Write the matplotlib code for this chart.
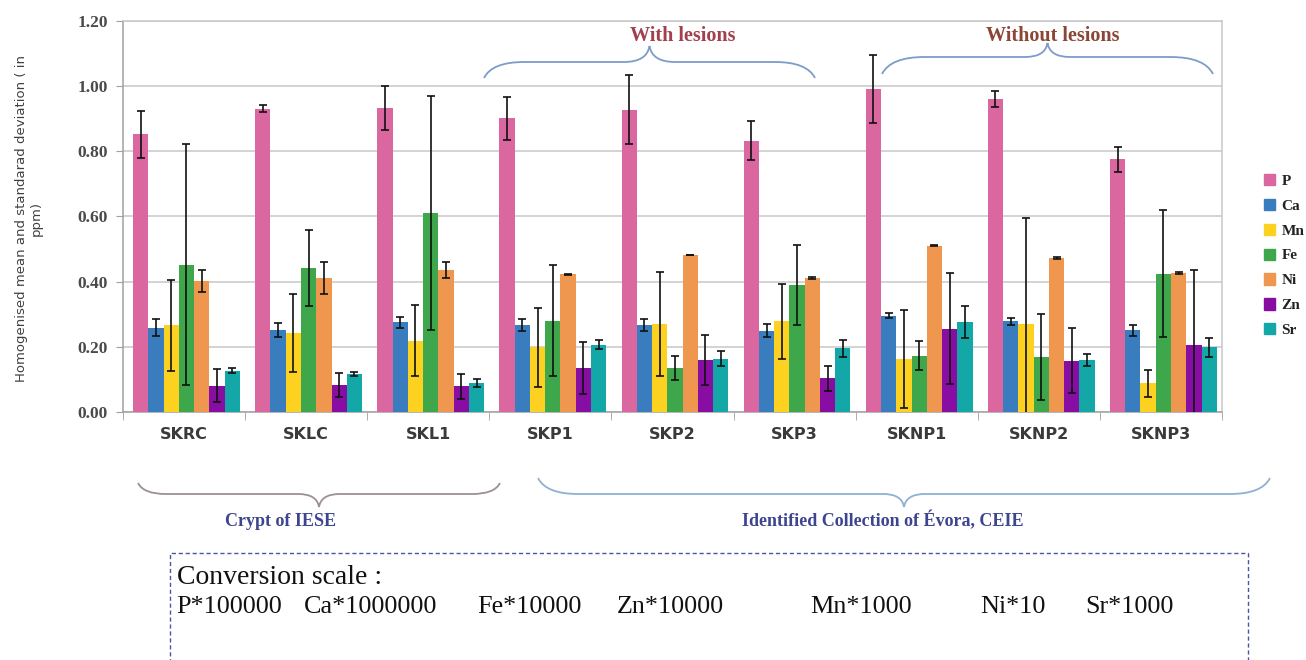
import numpy as np
import matplotlib
matplotlib.use("Agg")
import matplotlib.pyplot as plt
from matplotlib.path import Path
from matplotlib.patches import PathPatch, Rectangle

categories = ["SKRC", "SKLC", "SKL1", "SKP1", "SKP2", "SKP3", "SKNP1", "SKNP2", "SKNP3"]
elements = ["P", "Ca", "Mn", "Fe", "Ni", "Zn", "Sr"]

P = [0.852, 0.931, 0.932, 0.901, 0.927, 0.832, 0.991, 0.960, 0.775]
P_sd = [0.072, 0.011, 0.068, 0.065, 0.106, 0.060, 0.104, 0.024, 0.037]
Ca = [0.259, 0.251, 0.275, 0.267, 0.267, 0.250, 0.296, 0.278, 0.251]
Ca_sd = [0.025, 0.021, 0.018, 0.017, 0.017, 0.021, 0.008, 0.012, 0.017]
Mn = [0.266, 0.242, 0.219, 0.198, 0.271, 0.279, 0.163, 0.271, 0.088]
Mn_sd = [0.140, 0.120, 0.110, 0.120, 0.160, 0.115, 0.151, 0.325, 0.041]
Fe = [0.452, 0.443, 0.611, 0.280, 0.135, 0.389, 0.173, 0.169, 0.425]
Fe_sd = [0.370, 0.117, 0.358, 0.171, 0.036, 0.122, 0.045, 0.133, 0.195]
Ni = [0.401, 0.411, 0.435, 0.423, 0.482, 0.411, 0.510, 0.473, 0.427]
Ni_sd = [0.034, 0.048, 0.024, 0.002, 0.001, 0.004, 0.001, 0.002, 0.003]
Zn = [0.081, 0.084, 0.079, 0.135, 0.159, 0.103, 0.256, 0.157, 0.206]
Zn_sd = [0.050, 0.037, 0.038, 0.080, 0.076, 0.038, 0.171, 0.100, 0.230]
Sr = [0.127, 0.116, 0.089, 0.207, 0.163, 0.196, 0.276, 0.160, 0.198]
Sr_sd = [0.008, 0.007, 0.013, 0.014, 0.023, 0.026, 0.049, 0.019, 0.028]

means = [P, Ca, Mn, Fe, Ni, Zn, Sr]
sds = [P_sd, Ca_sd, Mn_sd, Fe_sd, Ni_sd, Zn_sd, Sr_sd]
colors = ["#DB67A0", "#3A7DBE", "#FDD11F", "#3EA64B", "#EF964F", "#870DA3", "#13A8A7"]

yticks = [0.0, 0.2, 0.4, 0.6, 0.8, 1.0, 1.2]
conversion = ["P*100000", "Ca*1000000", "Fe*10000", "Zn*10000", "Mn*1000", "Ni*10", "Sr*1000"]

W, H = 1306, 660
fig = plt.figure(figsize=(W / 100, H / 100), dpi=100)
ax = fig.add_axes([123 / W, 1 - 412 / H, (1222 - 123) / W, (412 - 21) / H])

n = len(categories)
x = np.arange(n)
bw = 0.125
for i, (m, s, c) in enumerate(zip(means, sds, colors)):
    xi = x - 3 * bw + i * bw + 0.02
    ax.bar(xi, m, width=bw, color=c, zorder=3, label=elements[i])
    ax.errorbar(xi, m, yerr=s, fmt="none", ecolor="#111111", elinewidth=1.2,
                capsize=3, capthick=1.2, zorder=4)

ax.set_xlim(-0.5, n - 0.5)
ax.set_ylim(0, 1.2)
ax.set_yticks(yticks)
ax.set_yticklabels([f"{v:.2f}" for v in yticks], fontfamily="Liberation Serif",
                   fontweight="bold", fontsize=12.5, color="#4A4A4A")
ax.yaxis.grid(True, color="#C8C8C8", linewidth=1.1, zorder=0)
ax.set_axisbelow(True)
ax.tick_params(axis="y", length=5, color="#A0A0A0", pad=6)

ax.set_xticks(x)
ax.set_xticklabels(categories, fontfamily="DejaVu Sans", fontweight="bold",
                   fontsize=11.5, color="#3A3A3A")
ax.tick_params(axis="x", which="major", length=0, pad=11)
ax.set_xticks(np.arange(-0.5, n, 1.0), minor=True)
ax.tick_params(axis="x", which="minor", length=6, color="#A0A0A0")
for sp in ax.spines.values():
    sp.set_color("#C8C8C8")
    sp.set_linewidth(1.1)
ax.spines["left"].set_color("#A0A0A0")
ax.spines["bottom"].set_color("#A0A0A0")

fig.text(29 / W, 1 - 218 / H, "Homogenised mean and standarad deviation ( in\nppm)",
         rotation=90, ha="center", va="center", fontsize=9.5, color="#404040",
         fontfamily="DejaVu Sans", linespacing=1.2)

handles = [Rectangle((0, 0), 1, 1, color=c) for c in colors]
leg = fig.legend(handles, elements, loc="upper left",
                 bbox_to_anchor=(1250 / W, 1 - 160 / H), frameon=False,
                 prop={"family": "Liberation Serif", "weight": "bold", "size": 11},
                 handlelength=0.75, handleheight=0.75, handletextpad=0.4,
                 labelspacing=0.72)
for t in leg.get_texts():
    t.set_color("#222222")


def px(xp, yp):
    return (xp / W, 1 - yp / H)


def brace(x0, x1, yend, yflat, ytip, color, lw=1.3):
    xc = (x0 + x1) / 2
    r = abs(yflat - yend) * 2.5
    r2 = abs(ytip - yflat) * 1.6
    pts = [px(x0, yend), px(x0 + r * 0.2, yflat), px(x0 + r, yflat),
           px(xc - r2, yflat),
           px(xc - r2 * 0.1, yflat), px(xc, ytip),
           px(xc + r2 * 0.1, yflat), px(xc + r2, yflat),
           px(x1 - r, yflat),
           px(x1 - r * 0.2, yflat), px(x1, yend)]
    codes = [Path.MOVETO, Path.CURVE3, Path.CURVE3, Path.LINETO,
             Path.CURVE3, Path.CURVE3, Path.CURVE3, Path.CURVE3,
             Path.LINETO, Path.CURVE3, Path.CURVE3]
    patch = PathPatch(Path(pts, codes), transform=fig.transFigure, fill=False,
                      edgecolor=color, linewidth=lw, zorder=10)
    fig.add_artist(patch)


brace(484, 815, 78, 62, 46, "#7D9CC8")
brace(882, 1213, 74, 57, 43, "#7D9CC8")
brace(138, 500, 483, 494, 507, "#9E9090")
brace(538, 1270, 478, 494, 507, "#8FB0D2")

fig.text(683 / W, 1 - 36 / H, "With lesions", ha="center", va="center",
         fontfamily="Liberation Serif", fontweight="bold", fontsize=14.5, color="#A3404E")
fig.text(1053 / W, 1 - 36 / H, "Without lesions", ha="center", va="center",
         fontfamily="Liberation Serif", fontweight="bold", fontsize=14.5, color="#8A4636")
fig.text(281 / W, 1 - 521 / H, "Crypt of IESE", ha="center", va="center",
         fontfamily="Liberation Serif", fontweight="bold", fontsize=13, color="#3E4590")
fig.text(883 / W, 1 - 521 / H, "Identified Collection of \u00c9vora, CEIE", ha="center",
         va="center", fontfamily="Liberation Serif", fontweight="bold", fontsize=13,
         color="#3E4590")

box = Rectangle(px(170, 700), (1248 - 170) / W, (700 - 553) / H,
                transform=fig.transFigure, fill=False, edgecolor="#4A55A8",
                linewidth=1.0, linestyle=(0, (3, 2)), zorder=10)
fig.add_artist(box)

fig.text(177 / W, 1 - 577 / H, "Conversion scale :", ha="left", va="center",
         fontfamily="Liberation Serif", fontsize=20, color="#111111")
conv_x = [176, 304, 477, 617, 810, 980, 1085]
for cx, t in zip(conv_x, conversion):
    fig.text(cx / W, 1 - 607 / H, t, ha="left", va="center",
             fontfamily="Liberation Serif", fontsize=18.8, color="#111111")

fig.savefig("out.png", dpi=100)
